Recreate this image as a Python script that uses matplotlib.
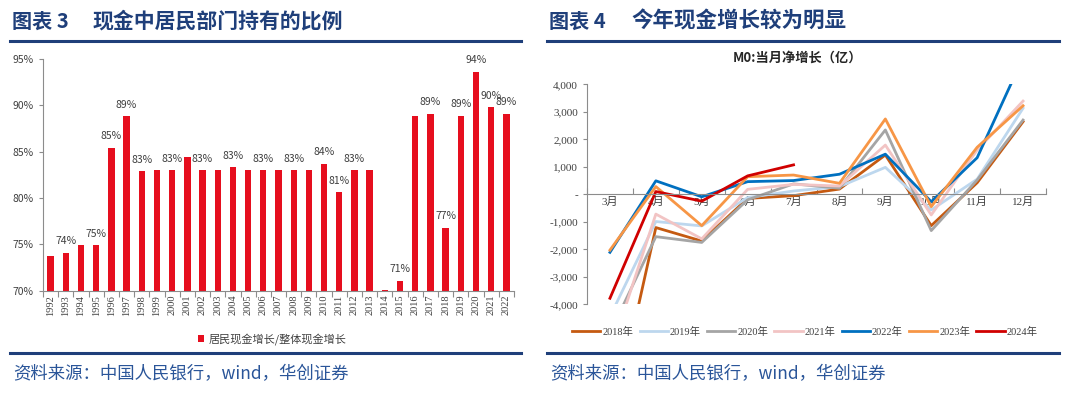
import numpy as np
import matplotlib.pyplot as plt
from matplotlib.lines import Line2D
from matplotlib.ticker import FuncFormatter

plt.rcParams['font.family'] = ['Noto Sans CJK SC', 'DejaVu Sans']

# left chart: share of cash held by households (%)
years = [str(y) for y in range(1992, 2023)]
share = [73.7, 74.1, 74.9, 74.9, 85.4, 88.8, 82.9, 83.0, 83.0, 84.4,
         83.0, 83.0, 83.3, 83.0, 83.0, 83.0, 83.0, 83.0, 83.7, 80.6,
         83.0, 83.0, 70.05, 71.1, 88.8, 89.1, 76.8, 88.9, 93.6, 89.8, 89.1]
labeled_years = ['1993', '1995', '1996', '1997', '1998', '2000', '2002', '2004',
                 '2006', '2008', '2010', '2011', '2012', '2015', '2017', '2018',
                 '2019', '2020', '2021', '2022']

# right chart: M0 monthly net increase (100m yuan)
months = ['3月', '4月', '5月', '6月', '7月', '8月', '9月', '10月', '11月', '12月']
m0_2018 = [-8700, -1210, -1700, -150, -50, 190, 1430, -1140, 420, 2640]
m0_2019 = [-4450, -990, -1150, -120, 120, 280, 980, -570, 550, 3130]
m0_2020 = [-5050, -1540, -1750, -200, 380, 220, 2340, -1320, 520, 2700]
m0_2021 = [-5800, -720, -1620, 180, 360, 300, 1790, -750, 1610, 3390]
m0_2022 = [-2110, 490, -90, 460, 500, 730, 1460, -270, 1330, 4970]
m0_2023 = [-2030, 280, -1140, 640, 700, 400, 2740, -450, 1710, 3220]
m0_2024 = [-3780, 100, -250, 670, 1070]

series = [('2018年', m0_2018, '#C55A11'),
          ('2019年', m0_2019, '#BDD7EE'),
          ('2020年', m0_2020, '#A5A5A5'),
          ('2021年', m0_2021, '#F2C4C4'),
          ('2022年', m0_2022, '#0070C0'),
          ('2023年', m0_2023, '#F79646'),
          ('2024年', m0_2024, '#D00000')]

navy = '#1F3F7A'
src_blue = '#2A5599'
grey = '#8C8C8C'
txt = '#404040'

fig = plt.figure(figsize=(10.8, 3.97), dpi=100)

def px(x, y):
    return x / 1080, 1 - y / 397

# headers, rules and sources
fig.text(*px(12, 21), '图表 3', fontsize=14.5, fontweight='bold', color=navy, va='center')
fig.text(*px(93, 21), '现金中居民部门持有的比例', fontsize=15, fontweight='bold',
         color=navy, va='center')
fig.text(*px(549, 21), '图表 4', fontsize=14.5, fontweight='bold', color=navy, va='center')
fig.text(*px(631, 21), '今年现金增长较为明显', fontsize=15.5, fontweight='bold',
         color=navy, va='center')
for x0, x1 in [(10, 521), (547, 1059)]:
    for yy in (41, 353):
        fig.add_artist(Line2D([x0 / 1080, x1 / 1080], [1 - yy / 397] * 2,
                              color=navy, lw=2.2))
fig.text(*px(13, 374), '资料来源：中国人民银行，wind，华创证券', fontsize=12.5,
         color=src_blue, va='center', style='italic')
fig.text(*px(550, 374), '资料来源：中国人民银行，wind，华创证券', fontsize=12.5,
         color=src_blue, va='center', style='italic')

# ---- left: bar chart
ax1 = fig.add_axes([43 / 1080, 1 - 290.7 / 397, 471 / 1080, 231.7 / 397])
x = np.arange(len(years))
bars = ax1.bar(x, share, width=0.42, color='#E60E1E', label='居民现金增长/整体现金增长')
ax1.set_ylim(70, 95)
ax1.set_xlim(-0.5, len(years) - 0.5)
ax1.set_yticks(np.arange(70, 96, 5))
ax1.yaxis.set_major_formatter(FuncFormatter(lambda v, p: f'{v:.0f}%'))
ax1.set_xticks(np.arange(-0.5, len(years), 1))
ax1.set_xticklabels([])
ax1.set_xticks(x, minor=True)
ax1.set_xticklabels(years, minor=True, rotation=90, fontsize=7.5, color=txt,
                    family=['Liberation Serif', 'DejaVu Sans'])
ax1.tick_params(axis='x', which='major', length=4, color=grey)
ax1.tick_params(axis='x', which='minor', length=0, pad=3)
ax1.tick_params(axis='y', labelsize=7.5, labelcolor=txt, length=3, color=grey)
for s in ('top', 'right'):
    ax1.spines[s].set_visible(False)
for s in ('left', 'bottom'):
    ax1.spines[s].set_color(grey)
for xi, yr, v in zip(x, years, share):
    if yr in labeled_years:
        ax1.text(xi, v + 0.7, f'{v:.0f}%', ha='center', va='bottom', fontsize=7.5, color=txt)
fig.legend(handles=[bars], loc='center', bbox_to_anchor=px(272, 339), frameon=False,
           fontsize=8, handlelength=0.6, handleheight=0.6, handletextpad=0.4,
           labelcolor=txt)

# ---- right: line chart
ax2 = fig.add_axes([587 / 1080, 1 - 304.3 / 397, 459 / 1080, 220 / 397])
mx = np.arange(len(months))
handles = []
for name, vals, col in series:
    h, = ax2.plot(mx[:len(vals)], vals, color=col, lw=2, label=name)
    handles.append(h)
ax2.set_ylim(-4000, 4000)
ax2.set_xlim(-0.5, len(months) - 0.5)
ax2.set_yticks(np.arange(-4000, 4001, 1000))
ax2.yaxis.set_major_formatter(FuncFormatter(lambda v, p: '-' if v == 0 else f'{v:,.0f}'))
ax2.spines['bottom'].set_position(('data', 0))
ax2.set_xticks(np.arange(-0.5, len(months), 1))
ax2.set_xticklabels([])
ax2.set_xticks(mx, minor=True)
ax2.set_xticklabels(months, minor=True, fontsize=8, color=txt,
                    family=['Liberation Serif', 'Noto Sans CJK SC'])
ax2.tick_params(axis='x', which='major', length=4, direction='in', color=grey)
ax2.tick_params(axis='x', which='minor', length=0, pad=2)
for lab in ax2.get_yticklabels():
    lab.set_family(['Liberation Serif', 'DejaVu Sans'])
ax2.tick_params(axis='y', labelsize=8, labelcolor=txt, length=3, color=grey)
for s in ('top', 'right'):
    ax2.spines[s].set_visible(False)
for s in ('left', 'bottom'):
    ax2.spines[s].set_color(grey)
fig.text(*px(798, 58), 'M0:当月净增长（亿）', fontsize=9.5, fontweight='bold',
         color='#262626', ha='center', va='center')
fig.legend(handles=handles, loc='center', bbox_to_anchor=px(805, 331.5), ncol=7,
           frameon=False, handlelength=2.7, handletextpad=0.2,
           columnspacing=0.6, labelcolor=txt,
           prop={'family': ['Liberation Serif', 'Noto Sans CJK SC'], 'size': 7.5})

fig.savefig('out.png', dpi=100)
